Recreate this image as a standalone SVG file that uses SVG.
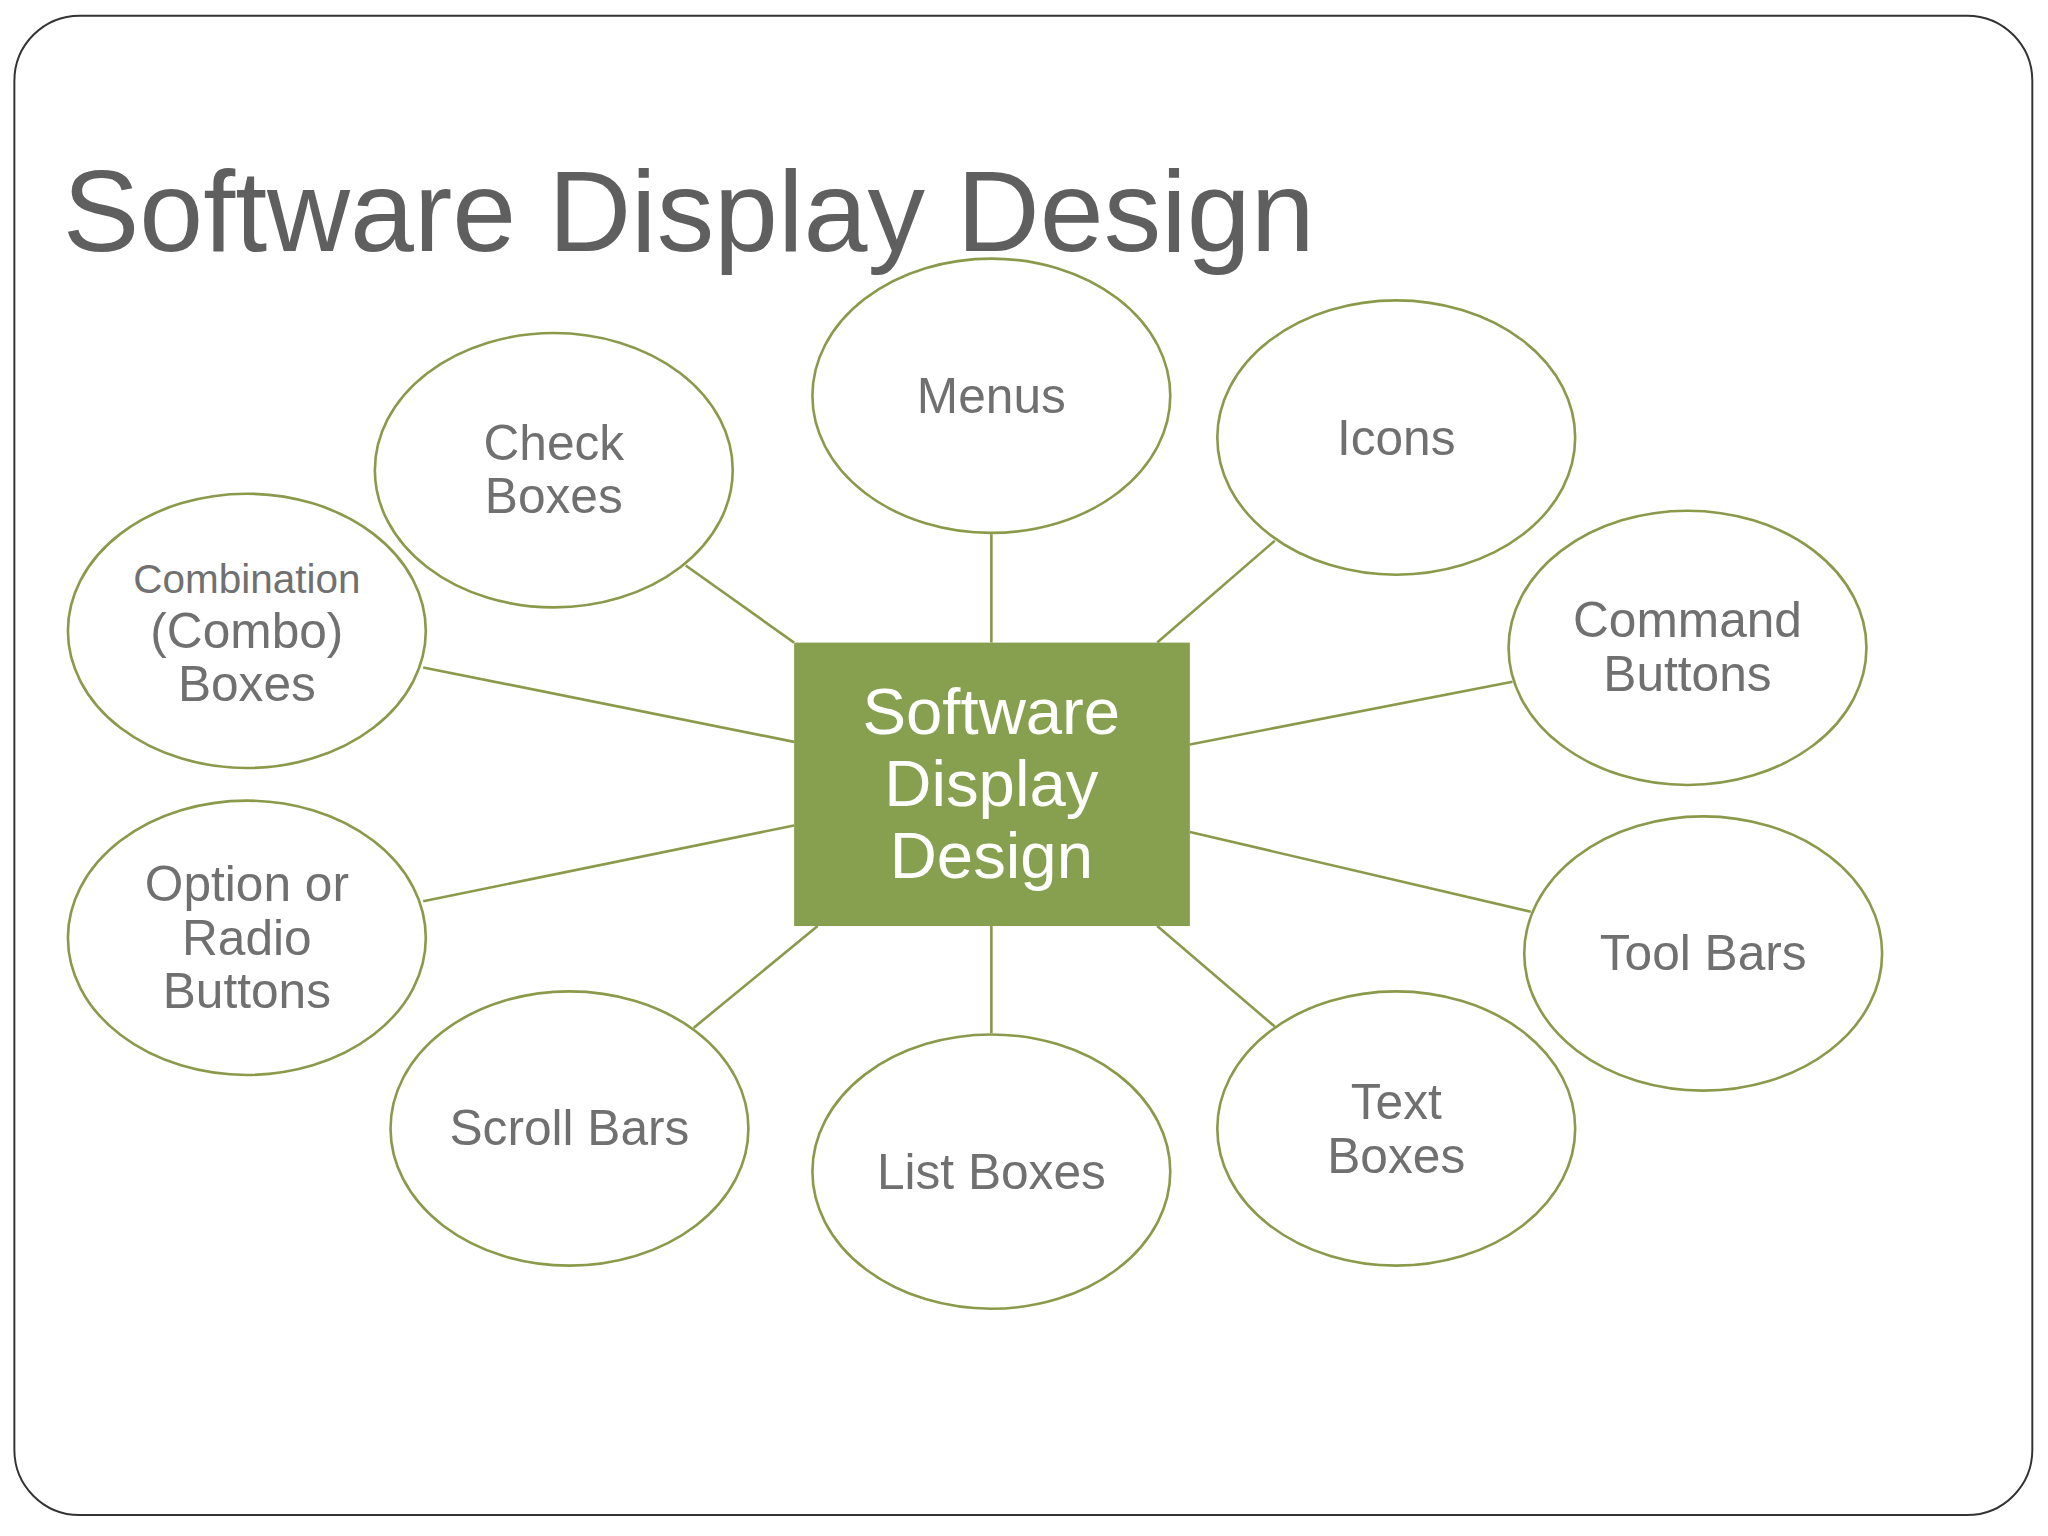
<svg xmlns="http://www.w3.org/2000/svg" width="2048" height="1536" viewBox="0 0 2048 1536">
<style>
.n ellipse{fill:#fff;stroke:#8a9a4a;stroke-width:2}
.t{font-family:"Liberation Sans",Arial,sans-serif;fill:#707070;font-size:38px;text-anchor:middle}
#connectors line{stroke:#8a9a4a;stroke-width:2}
</style>
<rect width="2048" height="1536" fill="#fff"/>
<g transform="scale(1.30612)">
<rect x="11" y="12" width="1545" height="1148" rx="50" fill="#fff" stroke="#333" stroke-width="1.5"/>
<text x="48" y="192" font-family="Liberation Sans,Arial,sans-serif" font-size="88" fill="#5f5f5f">Software Display Design</text>
<g id="connectors">
<line x1="525" y1="433" x2="608" y2="492"/>
<line x1="759" y1="409" x2="759" y2="492"/>
<line x1="976" y1="414" x2="886" y2="492"/>
<line x1="324" y1="511" x2="608" y2="568"/>
<line x1="1158" y1="522" x2="911" y2="570"/>
<line x1="324" y1="690" x2="608" y2="632"/>
<line x1="1172" y1="698" x2="911" y2="637"/>
<line x1="531" y1="787" x2="626" y2="709"/>
<line x1="759" y1="709" x2="759" y2="791"/>
<line x1="976" y1="786" x2="886" y2="709"/>
</g>
<g id="center"><rect x="608" y="492" width="303" height="217" fill="#87a04f"/>
<text class="t" style="fill:#fff;font-size:50px"><tspan x="759" y="562">Software</tspan><tspan x="759" y="617">Display</tspan><tspan x="759" y="672">Design</tspan></text></g>
<g id="check" class="n"><ellipse cx="424" cy="360" rx="137" ry="105"/><text class="t"><tspan x="424" y="352">Check</tspan><tspan x="424" y="393">Boxes</tspan></text></g>
<g id="menus" class="n"><ellipse cx="759" cy="303" rx="137" ry="105"/><text class="t" x="759" y="316">Menus</text></g>
<g id="icons" class="n"><ellipse cx="1069" cy="335" rx="137" ry="105"/><text class="t" x="1069" y="348">Icons</text></g>
<g id="combo" class="n"><ellipse cx="189" cy="483" rx="137" ry="105"/><text class="t"><tspan x="189" y="454" style="font-size:31px">Combination</tspan><tspan x="189" y="496">(Combo)</tspan><tspan x="189" y="537">Boxes</tspan></text></g>
<g id="command" class="n"><ellipse cx="1292" cy="496" rx="137" ry="105"/><text class="t"><tspan x="1292" y="488">Command</tspan><tspan x="1292" y="529">Buttons</tspan></text></g>
<g id="option" class="n"><ellipse cx="189" cy="718" rx="137" ry="105"/><text class="t"><tspan x="189" y="690">Option or</tspan><tspan x="189" y="731">Radio</tspan><tspan x="189" y="772">Buttons</tspan></text></g>
<g id="toolbars" class="n"><ellipse cx="1304" cy="730" rx="137" ry="105"/><text class="t" x="1304" y="743">Tool Bars</text></g>
<g id="scroll" class="n"><ellipse cx="436" cy="864" rx="137" ry="105"/><text class="t" x="436" y="877">Scroll Bars</text></g>
<g id="list" class="n"><ellipse cx="759" cy="897" rx="137" ry="105"/><text class="t" x="759" y="910">List Boxes</text></g>
<g id="text" class="n"><ellipse cx="1069" cy="864" rx="137" ry="105"/><text class="t"><tspan x="1069" y="857">Text</tspan><tspan x="1069" y="898">Boxes</tspan></text></g>
</g>
</svg>
